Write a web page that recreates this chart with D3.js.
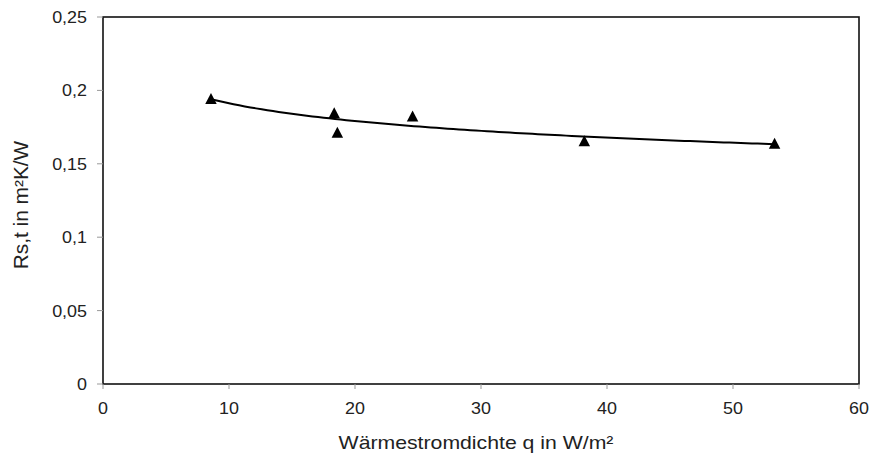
<!DOCTYPE html>
<html>
<head>
<meta charset="utf-8">
<script src="https://cdn.jsdelivr.net/npm/d3@7"></script>
<style>
  body { margin: 0; background: #fff; }
  text { font-family: "Liberation Sans", Arial, sans-serif; fill: #222; }
</style>
</head>
<body>
<svg id="chart" width="871" height="463"></svg>
<script>
// measured points (q in W/m², Rs,t in m²K/W)
var qValues = [8.57, 18.35, 18.6, 24.57, 38.2, 53.3];
var rValues = [0.1945, 0.1848, 0.1715, 0.1826, 0.1657, 0.164];
var xTicks = [0, 10, 20, 30, 40, 50, 60];
var yTicks = [0, 0.05, 0.1, 0.15, 0.2, 0.25];
var xLabel = "Wärmestromdichte q in W/m²";
var yLabel = "Rs,t in m²K/W";

var width = 871,
  height = 463;
var margin = { top: 17, right: 12, bottom: 79, left: 103 };

var svg = d3.select("#chart");

var x = d3.scaleLinear().domain([0, 60]).range([margin.left, width - margin.right]);
var y = d3.scaleLinear().domain([0, 0.25]).range([height - margin.bottom, margin.top]);

var fmt = d => String(d).replace(".", ",");

// frame
svg.append("rect")
  .attr("x", x(0)).attr("y", y(0.25))
  .attr("width", x(60) - x(0)).attr("height", y(0) - y(0.25))
  .attr("fill", "none").attr("stroke", "#111").attr("stroke-width", 1.6);

// y ticks
svg.selectAll(".ytick").data(yTicks).enter().append("line")
  .attr("x1", x(0) - 6).attr("x2", x(0))
  .attr("y1", d => y(d)).attr("y2", d => y(d))
  .attr("stroke", "#999").attr("stroke-width", 1);

svg.selectAll(".ylab").data(yTicks).enter().append("text")
  .attr("transform", d => `translate(${x(0) - 16},${y(d) + 6}) scale(1.12,1)`)
  .attr("text-anchor", "end")
  .attr("font-size", 16)
  .text(fmt);

// x ticks
svg.selectAll(".xtick").data(xTicks).enter().append("line")
  .attr("x1", d => x(d)).attr("x2", d => x(d))
  .attr("y1", y(0)).attr("y2", y(0) + 5)
  .attr("stroke", "#999").attr("stroke-width", 1);

svg.selectAll(".xlab").data(xTicks).enter().append("text")
  .attr("transform", d => `translate(${x(d)},${y(0) + 30}) scale(1.12,1)`)
  .attr("text-anchor", "middle")
  .attr("font-size", 16)
  .text(d => d);

// axis titles
svg.append("text")
  .attr("transform", `translate(476,449) scale(1.18,1)`)
  .attr("text-anchor", "middle")
  .attr("font-size", 18)
  .text(xLabel);

svg.append("text")
  .attr("transform", `translate(28,205) rotate(-90) scale(1.07,1)`)
  .attr("text-anchor", "middle")
  .attr("font-size", 19.5)
  .text(yLabel);

// power trendline fitted to the points (least squares in log-log space)
var lx = qValues.map(Math.log), ly = rValues.map(Math.log);
var mx = d3.mean(lx), my = d3.mean(ly);
var b = d3.sum(lx, (v, i) => (v - mx) * (ly[i] - my)) / d3.sum(lx, v => (v - mx) * (v - mx));
var a = Math.exp(my - b * mx);
var q0 = d3.min(qValues), q1 = d3.max(qValues);
var trend = d3.range(0, 101).map(i => {
  var q = q0 + (q1 - q0) * i / 100;
  return [q, a * Math.pow(q, b)];
});

svg.append("path")
  .datum(trend)
  .attr("fill", "none")
  .attr("stroke", "#000")
  .attr("stroke-width", 2)
  .attr("d", d3.line().x(d => x(d[0])).y(d => y(d[1])));

// triangle markers
var tri = {
  draw: function (ctx, size) {
    var w = Math.sqrt(size), h = w * 0.95;
    ctx.moveTo(0, -h / 2);
    ctx.lineTo(w / 2, h / 2);
    ctx.lineTo(-w / 2, h / 2);
    ctx.closePath();
  }
};

svg.selectAll(".pt").data(qValues).enter().append("path")
  .attr("transform", (d, i) => `translate(${x(d)},${y(rValues[i])})`)
  .attr("d", d3.symbol().type(tri).size(132))
  .attr("fill", "#000");
</script>
</body>
</html>
